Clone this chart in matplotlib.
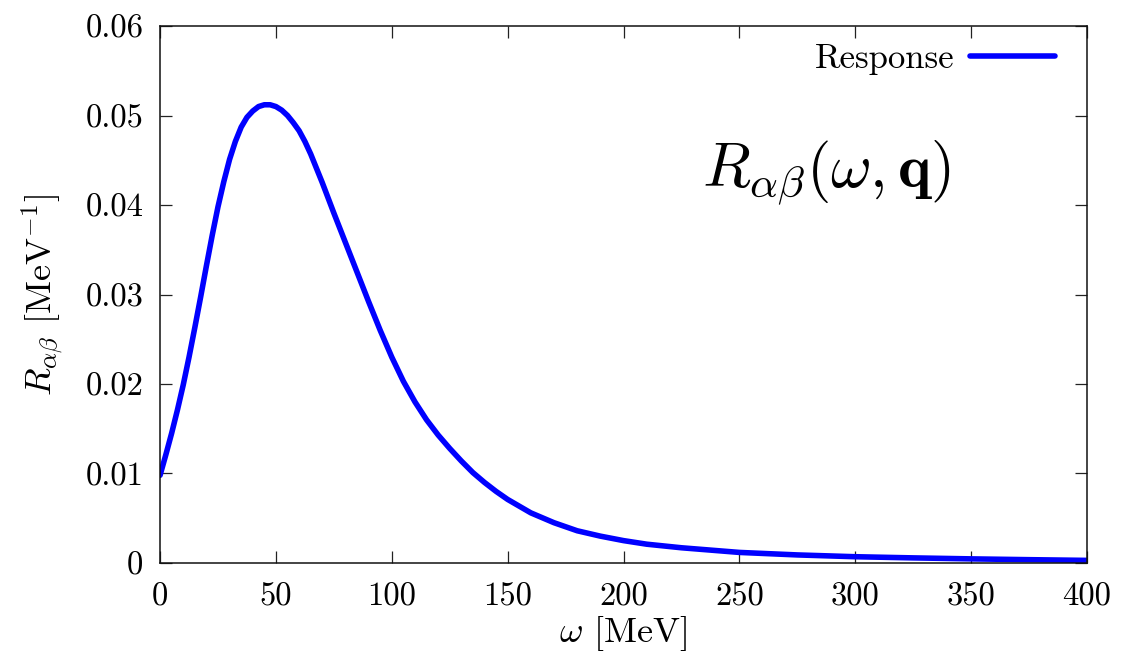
import numpy as np
import matplotlib
matplotlib.use('Agg')
import matplotlib.pyplot as plt

plt.rcParams['font.family'] = 'cmr10'
plt.rcParams['mathtext.fontset'] = 'cm'
plt.rcParams['axes.unicode_minus'] = False

# response curve
omega = [0, 2.5, 5, 7.5, 10, 12.5, 15, 17.5, 20, 22.5, 25, 27.5, 30, 32.5, 35,
         37.5, 40, 42.5, 45, 47.5, 50, 52.5, 55, 57.5, 60, 62.5, 65, 67.5, 70,
         72.5, 75, 80, 85, 90, 95, 100, 105, 110, 115, 120, 125, 130, 135, 140,
         145, 150, 160, 170, 180, 190, 200, 210, 225, 250, 275, 300, 325, 350,
         375, 400]
response = [0.0098, 0.0121, 0.0145, 0.0171, 0.0199, 0.0230, 0.0263, 0.0297,
            0.0332, 0.0366, 0.0398, 0.0426, 0.0451, 0.0471, 0.0487, 0.0498,
            0.0505, 0.0510, 0.0512, 0.0512, 0.0510, 0.0506, 0.0500, 0.0492,
            0.0483, 0.0471, 0.0457, 0.0441, 0.0425, 0.0408, 0.0391, 0.0358,
            0.0325, 0.0292, 0.0260, 0.0230, 0.0203, 0.0180, 0.0160, 0.0143,
            0.0128, 0.0114, 0.0101, 0.0090, 0.0080, 0.0071, 0.0056, 0.0045,
            0.0036, 0.0030, 0.0025, 0.0021, 0.0017, 0.00118, 0.0009, 0.0007,
            0.00057, 0.00046, 0.00037, 0.00029]

xticks = [0, 50, 100, 150, 200, 250, 300, 350, 400]
yticks = [0, 0.01, 0.02, 0.03, 0.04, 0.05, 0.06]
ytick_labels = ['0', '0.01', '0.02', '0.03', '0.04', '0.05', '0.06']

fig = plt.figure(figsize=(11.4, 6.57), dpi=100)
ax = fig.add_axes([0.1404, 0.1431, 0.8131, 0.8173])

ax.plot(omega, response, color='#0000ff', lw=4, label='Response',
        solid_capstyle='round', solid_joinstyle='round')

ax.set_xlim(0, 400)
ax.set_ylim(0, 0.06)
ax.set_xticks(xticks)
ax.set_xticklabels([str(t) for t in xticks])
ax.set_yticks(yticks)
ax.set_yticklabels(ytick_labels)
ax.tick_params(direction='in', length=8.5, width=0.9, top=True, right=True,
               labelsize=23.5, color='#222222')
ax.tick_params(axis='x', pad=14)
ax.tick_params(axis='y', pad=12)
for s in ax.spines.values():
    s.set_linewidth(1.1)
    s.set_color('#111111')

ax.set_xlabel(r'$\omega$ [MeV]', fontsize=26, labelpad=2)
ax.set_ylabel(r'$R_{\alpha\beta}$ [MeV$^{-1}$]', fontsize=26, labelpad=14)

ax.text(234, 0.0422, r'$R_{\alpha\beta}(\omega,\mathbf{q})$', fontsize=45,
        ha='left', va='baseline')

leg = ax.legend(loc='upper right', bbox_to_anchor=(0.973, 0.981),
                markerfirst=False, frameon=False,
                fontsize=25, handlelength=2.45, handletextpad=0.45,
                borderaxespad=0, borderpad=0.2)

fig.savefig('out.png', dpi=100)
